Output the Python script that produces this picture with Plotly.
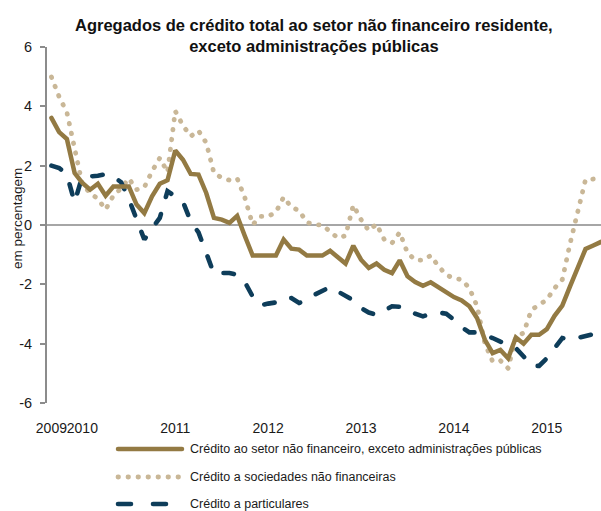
import plotly.graph_objects as go

# Monthly observations, Sep 2009 - Aug 2015 (year-on-year rate of change, %)
months = [f"{y}-{m:02d}" for y in range(2009, 2016) for m in range(1, 13)]
months = months[months.index("2009-09"):months.index("2015-08") + 1]

total = [3.61, 3.13, 2.90, 1.75, 1.42, 1.19, 1.39, 0.99, 1.30, 1.30, 1.30, 0.69,
         0.40, 0.97, 1.39, 1.51, 2.51, 2.20, 1.72, 1.70, 1.08, 0.24, 0.18, 0.07,
         0.31, -0.38, -1.03, -1.03, -1.03, -1.03, -0.49, -0.80, -0.83, -1.03, -1.03, -1.03,
         -0.87, -1.11, -1.30, -0.70, -1.17, -1.45, -1.30, -1.51, -1.62, -1.19, -1.73, -1.92,
         -2.05, -1.93, -2.09, -2.29, -2.43, -2.54, -2.74, -3.14, -3.87, -4.32, -4.21, -4.49,
         -3.79, -4.00, -3.70, -3.70, -3.51, -3.06, -2.72, -2.07, -1.45, -0.81, -0.69, -0.57]

sociedades = [4.99, 4.32, 3.80, 2.54, 1.36, 1.08, 0.88, 0.52, 0.99, 1.23, 1.57, 1.19,
              1.27, 1.81, 2.26, 1.78, 3.84, 3.35, 2.99, 3.18, 2.77, 1.75, 1.59, 1.51,
              1.57, 0.91, 0.01, 0.29, 0.29, 0.43, 0.94, 0.60, 0.49, 0.09, 0.01, 0.00,
              -0.21, -0.44, -0.36, 0.67, 0.18, -0.19, 0.03, -0.49, -0.61, -0.25, -0.94, -1.18,
              -1.19, -1.03, -1.39, -1.68, -1.80, -1.84, -2.13, -2.74, -4.00, -4.60, -4.57, -4.83,
              -3.76, -3.64, -2.86, -2.71, -2.52, -2.13, -1.84, -0.63, 0.40, 1.53, 1.55, 1.55]

particulares = [2.00, 1.92, 1.70, 0.76, 1.66, 1.64, 1.66, 1.71, 1.64, 1.44, 0.88, 0.18,
                -0.49, -0.12, 0.24, 1.14, 0.97, 0.78, 0.12, -0.25, -0.94, -1.65, -1.62, -1.62,
                -1.68, -1.93, -2.41, -2.71, -2.65, -2.61, -2.46, -2.46, -2.63, -2.52, -2.35, -2.24,
                -2.09, -2.24, -2.38, -2.54, -2.80, -2.95, -3.03, -2.88, -2.74, -2.76, -2.83, -2.99,
                -3.08, -2.99, -2.95, -2.99, -3.19, -3.44, -3.62, -3.62, -3.70, -3.81, -3.93, -4.04,
                -4.15, -4.43, -4.75, -4.75, -4.49, -4.15, -3.81, -3.87, -3.81, -3.75, -3.68, -3.45]

tick_months = ["2009-09", "2010-01", "2011-01", "2012-01", "2013-01", "2014-01", "2015-01"]
tick_labels = ["2009", "2010", "2011", "2012", "2013", "2014", "2015"]
y_ticks = [-6, -4, -2, 0, 2, 4, 6]

names = ["Crédito ao setor não financeiro, exceto administrações públicas",
         "Crédito a sociedades não financeiras",
         "Crédito a particulares"]

GOLD = "#937A43"
TAN = "#C9B797"
NAVY = "#0E3D5A"
AXIS_GREY = "#8C8C8C"
FONT = "Liberation Sans, Arial, sans-serif"
TEXT = "#1a1a1a"

line_styles = {
    "total": dict(color=GOLD, width=4.5, dash="solid"),
    "sociedades": dict(color=TAN, width=4.8, dash="0.5px,9.5px"),
    "particulares": dict(color=NAVY, width=4.6, dash="10.5px,17.8px"),
}

fig = go.Figure()
fig.add_trace(go.Scatter(x=months, y=sociedades, mode="lines", name=names[1],
                         line=line_styles["sociedades"], showlegend=False, hoverinfo="skip"))
fig.add_trace(go.Scatter(x=months, y=particulares, mode="lines", name=names[2],
                         line=line_styles["particulares"], showlegend=False, hoverinfo="skip"))
# the headline series sits on the overlay axis that carries the short tick marks
fig.add_trace(go.Scatter(x=months, y=total, mode="lines", name=names[0], yaxis="y2",
                         line=line_styles["total"], showlegend=False, hoverinfo="skip"))

W, H = 601, 511
L, R, T, B = 47, 0, 47, 108
pw, ph = W - L - R, H - T - B


def px_x(px):
    return (px - L) / pw


def px_y(py):
    return (H - B - py) / ph


# Legend drawn below the plot, with wide line samples
legend_items = [
    (names[0], line_styles["total"], "solid", 449),
    (names[1], line_styles["sociedades"], "0.5px,9.5px", 477),
    (names[2], line_styles["particulares"], "13px,22px", 504),
]
shapes = []
annotations = []
for name, st, dash, ry in legend_items:
    shapes.append(dict(type="line", xref="paper", yref="paper",
                       x0=px_x(118), x1=px_x(182), y0=px_y(ry), y1=px_y(ry),
                       line=dict(color=st["color"], width=st["width"], dash=dash)))
    annotations.append(dict(xref="paper", yref="paper", x=px_x(188), y=px_y(ry),
                            xanchor="left", yanchor="middle", text=name, showarrow=False,
                            font=dict(family=FONT, size=12.5, color=TEXT)))

# Vertical axis caption
annotations.append(dict(xref="paper", yref="paper", x=px_x(18), y=px_y(219),
                        text="em percentagem", textangle=-90, showarrow=False,
                        xanchor="center", yanchor="middle",
                        font=dict(family=FONT, size=13.5, color=TEXT)))

# Two-line bold heading
annotations.append(dict(xref="paper", yref="paper", x=px_x(314), y=px_y(14),
                        xanchor="center", yanchor="top", align="center", showarrow=False,
                        text="Agregados de crédito total ao setor não financeiro residente,<br>"
                             "exceto administrações públicas",
                        font=dict(family=FONT, size=16.5, color="#111111", weight="bold")))

fig.update_layout(
    template="none",
    width=W, height=H,
    margin=dict(l=L, r=R, t=T, b=B, pad=0),
    paper_bgcolor="white", plot_bgcolor="white",
    shapes=shapes,
    annotations=annotations,
    font=dict(family=FONT, color=TEXT),
    xaxis=dict(type="category", range=[-0.57, 71.0], tickmode="array",
               tickvals=tick_months, ticktext=tick_labels, tickangle=0,
               showgrid=False, zeroline=False, showline=False,
               ticks="outside", ticklen=12, tickcolor="rgba(0,0,0,0)",
               automargin=False, tickfont=dict(family=FONT, size=14, color=TEXT)),
    # labelled axis: invisible long ticks push the numbers away from the axis line
    yaxis=dict(range=[-6, 6], tickmode="array", tickvals=y_ticks,
               ticktext=[str(v) for v in y_ticks],
               showgrid=False, zeroline=True, zerolinecolor="#A6A6A6", zerolinewidth=1.5,
               showline=False, ticks="outside", ticklen=11, tickcolor="rgba(0,0,0,0)",
               automargin=False, tickfont=dict(family=FONT, size=14.5, color=TEXT)),
    # overlay axis: the visible axis line and short tick marks
    yaxis2=dict(range=[-6, 6], overlaying="y", side="left", tickmode="array",
                tickvals=y_ticks, showticklabels=False, showgrid=False, zeroline=False,
                showline=True, linecolor=AXIS_GREY, linewidth=1.5,
                ticks="outside", ticklen=5, tickcolor=AXIS_GREY, tickwidth=1.5,
                automargin=False),
)

round_caps = """
function roundCaps(){
  document.querySelectorAll('.scatterlayer .js-line, .shapelayer path').forEach(function(p){
    p.style.strokeLinecap = 'round';
  });
}
roundCaps();
setTimeout(roundCaps, 30);
setTimeout(roundCaps, 300);
var gd = document.getElementById('{plot_id}');
if (gd && gd.on) { gd.on('plotly_afterplot', roundCaps); }
"""

fig.write_html("out.html", post_script=round_caps)
